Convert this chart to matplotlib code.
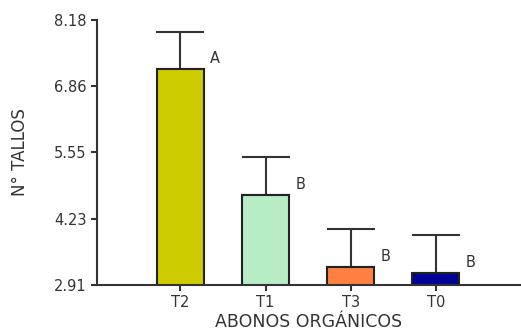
import matplotlib.pyplot as plt

# datos
tratamientos = ['T2', 'T1', 'T3', 'T0']
medias = [7.20, 4.70, 3.27, 3.15]
error_sup = [0.75, 0.75, 0.75, 0.75]
letras = ['A', 'B', 'B', 'B']
colores = ['#CCCC00', '#B8ECC4', '#FF8040', '#000099']
yticks = [2.91, 4.23, 5.55, 6.86, 8.18]

plt.rcParams['font.family'] = ['DejaVu Sans']

fig = plt.figure(figsize=(5.21, 3.31), dpi=100)
ax = fig.add_axes([97 / 521, 1 - 285 / 331, 1 - 97 / 521, 265 / 331])

x = list(range(len(tratamientos)))
ax.bar(x, medias, width=0.55, color=colores, edgecolor='#222222', linewidth=1.5,
       bottom=0, zorder=2)
ax.errorbar(x, medias, yerr=[[0] * len(x), error_sup], fmt='none',
            ecolor='#333333', elinewidth=1.5, capsize=17, capthick=1.5, zorder=1)

for xi, m, l in zip(x, medias, letras):
    ax.text(xi + 0.35, m + 0.06, l, fontsize=10.5, color='#333333',
            ha='left', va='bottom')

ax.set_ylim(2.91, 8.18)
ax.set_xlim(-0.98, 4.0)
ax.set_yticks(yticks)
ax.set_yticklabels([f'{v:.2f}' for v in yticks])
ax.set_xticks(x)
ax.set_xticklabels(tratamientos)
ax.tick_params(labelsize=10.5, colors='#333333', width=1.5, length=4)

ax.spines['top'].set_visible(False)
ax.spines['right'].set_visible(False)
ax.spines['left'].set_linewidth(1.5)
ax.spines['bottom'].set_linewidth(1.5)
ax.spines['left'].set_color('#333333')
ax.spines['bottom'].set_color('#333333')

ax.set_ylabel('N° TALLOS', fontsize=12, color='#333333', labelpad=18)
ax.set_xlabel('ABONOS ORGÁNICOS', fontsize=12.5, color='#333333', labelpad=2)

fig.savefig('out.png', dpi=100)
